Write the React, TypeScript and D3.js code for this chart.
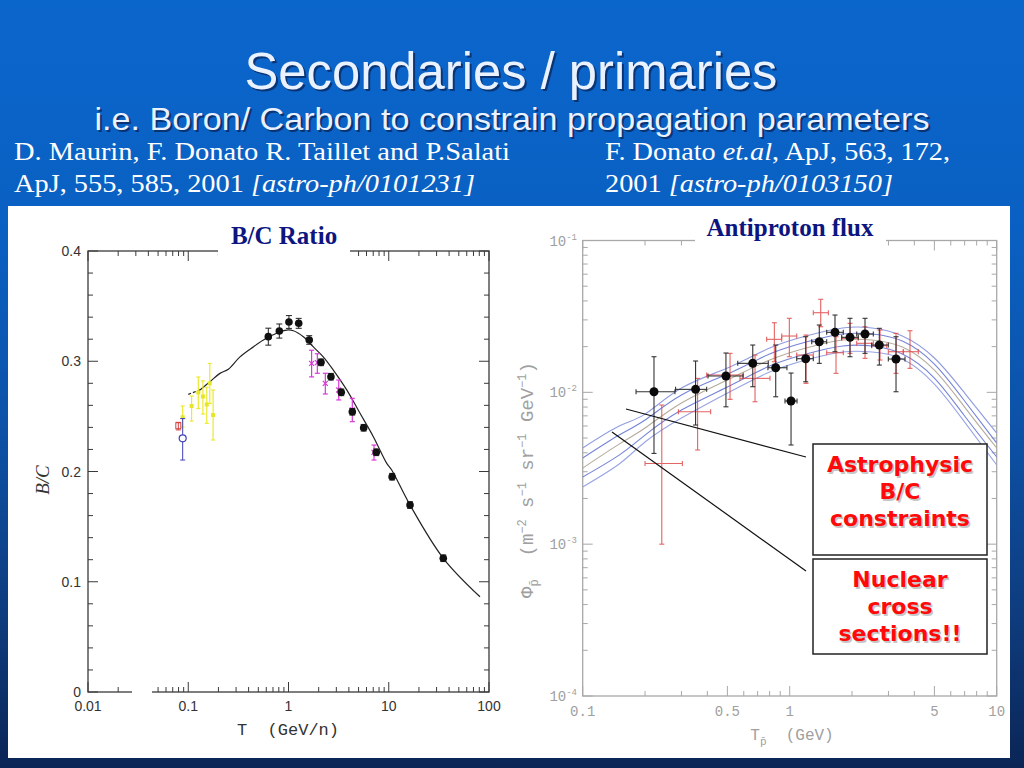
import * as d3 from 'd3';

// ---------- left panel: B/C ratio ----------
const bcModelT = [0.1, 0.131, 0.165, 0.207, 0.251, 0.328, 0.445, 0.606, 0.763, 0.96, 1.117, 1.406, 1.77, 2.22, 2.8, 3.81, 5.17, 7.02, 9.55, 10.7, 16.3, 35.0, 81.3];
const bcModel = [0.27, 0.274, 0.2815, 0.289, 0.2927, 0.304, 0.313, 0.321, 0.3254, 0.3283, 0.3277, 0.3223, 0.313, 0.304, 0.292, 0.274, 0.2528, 0.2316, 0.2074, 0.2014, 0.1696, 0.1213, 0.0864];

const heaoT = [0.629, 0.81, 1.01, 1.264, 1.61, 2.11, 2.65, 3.36, 4.33, 5.62, 7.51, 10.8, 16.3, 35.0];
const heaoBC = [0.3223, 0.3274, 0.3356, 0.3344, 0.3193, 0.299, 0.286, 0.2718, 0.2542, 0.2397, 0.2174, 0.1953, 0.1696, 0.1213];
const heaoErr = [0.0077, 0.0064, 0.0058, 0.0045, 0.0039, 0.003, 0.003, 0.003, 0.003, 0.003, 0.003, 0.003, 0.003, 0.003];

const magT = [1.7, 1.94, 2.33, 3.17, 4.33, 7.13];
const magBC = [0.2981, 0.2987, 0.28, 0.2739, 0.2558, 0.2174];
const magLo = [0.2858, 0.2891, 0.2703, 0.2649, 0.2452, 0.2104];
const magHi = [0.31, 0.3068, 0.2891, 0.283, 0.2664, 0.224];

const yelT = [0.088, 0.108, 0.126, 0.14, 0.153, 0.164, 0.177];
const yelBC = [0.2492, 0.2594, 0.2717, 0.268, 0.2608, 0.28, 0.2512];
const yelLo = [0.2403, 0.2458, 0.2571, 0.2521, 0.2437, 0.2617, 0.2286];
const yelHi = [0.2594, 0.2685, 0.2857, 0.2822, 0.2764, 0.298, 0.2739];

const redSqT = 0.0796, redSqBC = 0.2415, redSqLo = 0.2377, redSqHi = 0.2446;
const bluT = 0.088, bluBC = 0.2301, bluLo = 0.2104, bluHi = 0.248;

const leftXLabels = ['0.01', '0.1', '1', '10', '100'];
const leftYLabels = ['0', '0.1', '0.2', '0.3', '0.4'];

// ---------- right panel: antiproton flux ----------
const curveT = [0.1, 0.15, 0.2, 0.3, 0.5, 0.8, 1.2, 1.8, 2.5, 3.5, 5, 7, 10];
const curveA = [0.0043, 0.006, 0.00719, 0.01067, 0.01446, 0.01958, 0.02349, 0.02652, 0.02652, 0.02349, 0.01683, 0.00989, 0.00539];
const curveB = [0.00369, 0.00523, 0.00657, 0.0096, 0.0132, 0.01788, 0.02145, 0.02421, 0.02421, 0.02178, 0.01536, 0.00877, 0.00463];
const curveC = [0.00317, 0.00456, 0.00582, 0.0085, 0.01205, 0.01632, 0.01958, 0.02211, 0.02211, 0.01988, 0.01402, 0.008, 0.0043];
const curveD = [0.00277, 0.00386, 0.00523, 0.00764, 0.01083, 0.0149, 0.01788, 0.02018, 0.02018, 0.01788, 0.01242, 0.00698, 0.00375];
const curveE = [0.00238, 0.00337, 0.00471, 0.00677, 0.00989, 0.0136, 0.01632, 0.01843, 0.01843, 0.01657, 0.01134, 0.00637, 0.00332];
const curveColors = ['#8f9ce0', '#7584d6', '#b4ac9c', '#7584d6', '#98a4e4'];

const bessT = [0.221, 0.351, 0.492, 0.663, 0.856, 1.015, 1.195, 1.39, 1.655, 1.956, 2.311, 2.71, 3.263];
const bessTlo = [0.181, 0.281, 0.403, 0.561, 0.785, 0.949, 1.081, 1.277, 1.509, 1.783, 2.107, 2.489, 2.995];
const bessThi = [0.279, 0.397, 0.595, 0.788, 0.97, 1.085, 1.3, 1.509, 1.815, 2.145, 2.535, 2.995, 3.606];
const bessPhi = [0.01009, 0.01046, 0.0128, 0.01552, 0.01452, 0.00877, 0.01665, 0.02154, 0.02484, 0.02303, 0.02421, 0.02049, 0.01657];
const bessLo = [0.00396, 0.00609, 0.00803, 0.01089, 0.00935, 0.0045, 0.01174, 0.01552, 0.01852, 0.01716, 0.01806, 0.01512, 0.01009];
const bessHi = [0.01716, 0.01608, 0.01815, 0.02049, 0.02049, 0.0134, 0.02324, 0.02776, 0.03229, 0.03073, 0.03073, 0.0264, 0.02324];

const redT = [0.241, 0.359, 0.515, 0.68, 0.843, 0.996, 1.199, 1.412, 1.674, 1.956, 2.311, 2.731, 3.263, 3.812];
const redTlo = [0.2, 0.29, 0.397, 0.575, 0.774, 0.915, 1.081, 1.3, 1.509, 1.783, 2.107, 2.489, 2.995, 3.538];
const redThi = [0.303, 0.415, 0.597, 0.803, 0.915, 1.081, 1.3, 1.537, 1.815, 2.145, 2.535, 2.943, 3.538, 4.181];
const redPhi = [0.0034, 0.00745, 0.013, 0.01236, 0.02234, 0.02349, 0.01761, 0.03345, 0.01823, 0.02268, 0.02103, 0.02028, 0.01852, 0.01852];
const redLo = [0.001, 0.00417, 0.00899, 0.00867, 0.0159, 0.01716, 0.01146, 0.02704, 0.01334, 0.01806, 0.01675, 0.01632, 0.01334, 0.01439];
const redHi = [0.00825, 0.01236, 0.01806, 0.01761, 0.02874, 0.03073, 0.02384, 0.04099, 0.02324, 0.02848, 0.02704, 0.02573, 0.02447, 0.02545];

const rightXLabels = [0.1, 0.5, 1, 5, 10];
const rightYExp = ['-1', '-2', '-3', '-4'];

const boxAstro = ['Astrophysic', 'B/C', 'constraints'];
const boxNuclear = ['Nuclear', 'cross', 'sections!!'];

// scales
const xL = d3.scaleLog().domain([0.01, 100]).range([88, 489]);
const yL = d3.scaleLinear().domain([0, 0.4]).range([692, 251]);
const xR = d3.scaleLog().domain([0.1, 10]).range([582.7, 996.7]);
const yR = d3.scaleLog().domain([1e-4, 1e-1]).range([696, 240.5]);

const isDecade = (v: number) => Math.abs(Math.log10(v) - Math.round(Math.log10(v))) < 1e-6;

function VBar({ x, y1, y2, cap, color, w = 1 }: any) {
  return (
    <g stroke={color} strokeWidth={w}>
      <line x1={x} x2={x} y1={y1} y2={y2} />
      <line x1={x - cap} x2={x + cap} y1={y1} y2={y1} />
      <line x1={x - cap} x2={x + cap} y1={y2} y2={y2} />
    </g>
  );
}

function HBar({ y, x1, x2, cap, color, w = 1 }: any) {
  return (
    <g stroke={color} strokeWidth={w}>
      <line x1={x1} x2={x2} y1={y} y2={y} />
      <line x1={x1} x2={x1} y1={y - cap} y2={y + cap} />
      <line x1={x2} x2={x2} y1={y - cap} y2={y + cap} />
    </g>
  );
}

function LeftChart() {
  const [x0, x1] = xL.range();
  const [y0, y1] = yL.range();
  // solid part of the model starts at the 2nd point, the first segment is dashed
  const solid = d3
    .line<number>()
    .x((_, i) => xL(bcModelT[i + 1]))
    .y((d) => yL(d))
    .curve(d3.curveCatmullRom.alpha(0.5));
  const dashed = d3
    .line<number>()
    .x((_, i) => xL(bcModelT[i]))
    .y((d) => yL(d));
  const xt = xL.ticks();
  const yt = yL.ticks(20);
  const col = '#3a3a3a';
  return (
    <g>
      <rect x={x0} y={y1} width={x1 - x0} height={y0 - y1} fill="none" stroke={col} strokeWidth={1.3} />
      {xt.map((t) => {
        const L = isDecade(t) ? 10 : 5;
        const x = xL(t);
        return (
          <g key={'lx' + t} stroke={col} strokeWidth={1}>
            <line x1={x} x2={x} y1={y0} y2={y0 - L} />
            <line x1={x} x2={x} y1={y1} y2={y1 + L} />
          </g>
        );
      })}
      {yt.map((t, i) => {
        const L = i % 5 === 0 ? 10 : 5;
        const y = yL(t);
        return (
          <g key={'ly' + i} stroke={col} strokeWidth={1}>
            <line x1={x0} x2={x0 + L} y1={y} y2={y} />
            <line x1={x1} x2={x1 - L} y1={y} y2={y} />
          </g>
        );
      })}
      {leftXLabels.map((s) => (
        <text key={'xl' + s} x={xL(+s)} y={711} textAnchor="middle" fontFamily="Liberation Sans, Arial" fontSize={14} fill="#333">
          {s}
        </text>
      ))}
      {leftYLabels.map((s) => (
        <text key={'yl' + s} x={81} y={yL(+s) + 5} textAnchor="end" fontFamily="Liberation Sans, Arial" fontSize={14} fill="#333">
          {s}
        </text>
      ))}
      <text x={288} y={735} textAnchor="middle" fontFamily="Liberation Mono, monospace" fontSize={17} fill="#333" style={{ whiteSpace: 'pre' }}>
        T  (GeV/n)
      </text>
      <text transform="translate(49,480) rotate(-90)" textAnchor="middle" fontFamily="Liberation Serif, serif" fontStyle="italic" fontSize={19} fill="#333">
        B/C
      </text>

      {/* model */}
      <path d={solid(bcModel.slice(1)) || ''} fill="none" stroke="#222" strokeWidth={1.2} />
      <path d={dashed(bcModel.slice(0, 2)) || ''} fill="none" stroke="#222" strokeWidth={1.2} strokeDasharray="3,2" />

      {/* yellow */}
      {yelT.map((t, i) => (
        <g key={'ye' + i}>
          <VBar x={xL(t)} y1={yL(yelHi[i])} y2={yL(yelLo[i])} cap={2} color="#eaea30" w={1.2} />
          <rect x={xL(t) - 2} y={yL(yelBC[i]) - 2} width={4} height={4} fill="#e6e628" />
        </g>
      ))}
      {/* red square & blue circle */}
      <VBar x={xL(redSqT)} y1={yL(redSqHi)} y2={yL(redSqLo)} cap={2.5} color="#d04040" />
      <rect x={xL(redSqT) - 2.5} y={yL(redSqBC) - 3} width={5} height={6} fill="none" stroke="#d04040" strokeWidth={1} />
      <VBar x={xL(bluT)} y1={yL(bluHi)} y2={yL(bluLo)} cap={2.5} color="#4040b8" />
      <circle cx={xL(bluT)} cy={yL(bluBC)} r={3.5} fill="white" stroke="#4040b8" strokeWidth={1.2} />
      {/* magenta */}
      {magT.map((t, i) => {
        const x = xL(t), y = yL(magBC[i]);
        return (
          <g key={'mg' + i}>
            <VBar x={x} y1={yL(magHi[i])} y2={yL(magLo[i])} cap={2.5} color="#d838d8" w={1.2} />
            <g stroke="#d838d8" strokeWidth={1.2}>
              <line x1={x - 2.5} x2={x + 2.5} y1={y - 2.5} y2={y + 2.5} />
              <line x1={x - 2.5} x2={x + 2.5} y1={y + 2.5} y2={y - 2.5} />
            </g>
          </g>
        );
      })}
      {/* black points */}
      {heaoT.map((t, i) => (
        <g key={'hb' + i}>
          <VBar x={xL(t)} y1={yL(heaoBC[i] + heaoErr[i])} y2={yL(heaoBC[i] - heaoErr[i])} cap={3} color="#222" />
          <circle cx={xL(t)} cy={yL(heaoBC[i])} r={3.8} fill="#111" />
        </g>
      ))}

      {/* pasted-over patches */}
      <rect x={218} y={212} width={132} height={50} fill="white" />
      <rect x={132} y={682} width={20} height={68} fill="white" />
      <text x={284} y={244} textAnchor="middle" fontFamily="Liberation Serif, serif" fontWeight="bold" fontSize={25} fill="#0d1680">
        B/C Ratio
      </text>
    </g>
  );
}

function RightChart() {
  const [x0, x1] = xR.range();
  const [y0, y1] = yR.range();
  const col = '#a8a8a8';
  const xt = xR.ticks();
  const yt = yR.ticks();
  const curves = [curveA, curveB, curveC, curveD, curveE];
  const line = d3
    .line<number>()
    .x((_, i) => xR(curveT[i]))
    .y((d) => yR(d))
    .curve(d3.curveNatural);
  const mono = 'Liberation Mono, DejaVu Sans Mono, monospace';
  return (
    <g>
      <defs>
        <clipPath id="rclip">
          <rect x={x0} y={y1} width={x1 - x0} height={y0 - y1} />
        </clipPath>
      </defs>
      <rect x={x0} y={y1} width={x1 - x0} height={y0 - y1} fill="none" stroke={col} strokeWidth={1.3} />
      {xt.map((t) => {
        const major = [0.1, 0.5, 1, 5, 10].some((m) => Math.abs(m - t) < 1e-9);
        const L = major ? 10 : 5;
        const x = xR(t);
        return (
          <g key={'rx' + t} stroke={col} strokeWidth={1}>
            <line x1={x} x2={x} y1={y0} y2={y0 - L} />
            <line x1={x} x2={x} y1={y1} y2={y1 + L} />
          </g>
        );
      })}
      {yt.map((t) => {
        const L = isDecade(t) ? 10 : 5;
        const y = yR(t);
        return (
          <g key={'ry' + t} stroke={col} strokeWidth={1}>
            <line x1={x0} x2={x0 + L} y1={y} y2={y} />
            <line x1={x1} x2={x1 - L} y1={y} y2={y} />
          </g>
        );
      })}
      {rightXLabels.map((v) => (
        <text key={'rxl' + v} x={xR(v)} y={716} textAnchor="middle" fontFamily={mono} fontSize={14} fill="#a0a0a0">
          {String(v)}
        </text>
      ))}
      {rightYExp.map((e, i) => (
        <text key={'ryl' + e} x={577} y={yR(Math.pow(10, -(i + 1))) + 5} textAnchor="end" fontFamily={mono} fontSize={14} fill="#a0a0a0">
          10<tspan dy={-6} fontSize={9}>{e}</tspan>
        </text>
      ))}
      <text x={792} y={740} textAnchor="middle" fontFamily={mono} fontSize={16} fill="#a0a0a0" style={{ whiteSpace: 'pre' }}>
        T<tspan dy={5} fontSize={11}>{'p\u0304'}</tspan>
        <tspan dy={-5}>{'  (GeV)'}</tspan>
      </text>
      <text transform="translate(533,480) rotate(-90)" textAnchor="middle" fontFamily={mono} fontSize={19} fill="#a0a0a0" style={{ whiteSpace: 'pre' }}>
        {'\u03a6'}
        <tspan dy={5} fontSize={12}>{'p\u0304'}</tspan>
        <tspan dy={-5}>{'  (m'}</tspan>
        <tspan dy={-7} fontSize={12}>−2</tspan>
        <tspan dy={7}>{' s'}</tspan>
        <tspan dy={-7} fontSize={12}>−1</tspan>
        <tspan dy={7}>{' sr'}</tspan>
        <tspan dy={-7} fontSize={12}>−1</tspan>
        <tspan dy={7}>{' GeV'}</tspan>
        <tspan dy={-7} fontSize={12}>−1</tspan>
        <tspan dy={7}>)</tspan>
      </text>

      <g clipPath="url(#rclip)">
        {curves.map((c, i) => (
          <path key={'c' + i} d={line(c) || ''} fill="none" stroke={curveColors[i]} strokeWidth={1.1} />
        ))}
      </g>

      {/* red data */}
      {redT.map((t, i) => (
        <g key={'rd' + i} opacity={0.85}>
          <VBar x={xR(t)} y1={yR(redHi[i])} y2={yR(redLo[i])} cap={2.5} color="#e04848" w={1.1} />
          <HBar y={yR(redPhi[i])} x1={xR(redTlo[i])} x2={xR(redThi[i])} cap={2.5} color="#e04848" w={1.1} />
        </g>
      ))}
      {/* black data */}
      {bessT.map((t, i) => (
        <g key={'bs' + i}>
          <VBar x={xR(t)} y1={yR(bessHi[i])} y2={yR(bessLo[i])} cap={2.5} color="#333" w={1.1} />
          <HBar y={yR(bessPhi[i])} x1={xR(bessTlo[i])} x2={xR(bessThi[i])} cap={2.5} color="#333" w={1.1} />
          <circle cx={xR(t)} cy={yR(bessPhi[i])} r={4.5} fill="#0a0a0a" />
        </g>
      ))}

      <rect x={695} y={210} width={191} height={46} fill="white" />
      <text x={790} y={236} textAnchor="middle" fontFamily="Liberation Serif, serif" fontWeight="bold" fontSize={25} fill="#0d1680">
        Antiproton flux
      </text>
    </g>
  );
}

function Callout({ y, h, lines }: { y: number; h: number; lines: string[] }) {
  const base = y + 28;
  return (
    <g>
      <rect x={813} y={y} width={174} height={h} fill="white" stroke="#222" strokeWidth={1.5} />
      {lines.map((s, i) => (
        <g key={s} fontFamily="DejaVu Sans, Verdana, sans-serif" fontWeight="bold" fontSize={22} textAnchor="middle">
          <text x={901.5} y={base + i * 27 + 1.5} fill="#999" opacity={0.55}>
            {s}
          </text>
          <text x={900} y={base + i * 27} fill="#ff0a0a">
            {s}
          </text>
        </g>
      ))}
    </g>
  );
}

export default function App() {
  return (
    <svg width={1024} height={768} style={{ position: 'absolute', left: 0, top: 0 }}>
      <defs>
        <linearGradient id="bg" x1="0" y1="0" x2="0" y2="1">
          <stop offset="0" stopColor="#0b66cc" />
          <stop offset="0.3" stopColor="#0a60c2" />
          <stop offset="0.55" stopColor="#0c52a8" />
          <stop offset="0.8" stopColor="#0e3c7e" />
          <stop offset="1" stopColor="#0b2556" />
        </linearGradient>
      </defs>
      <rect width={1024} height={768} fill="url(#bg)" />

      {/* header */}
      <g fontFamily="Liberation Sans, Arial, sans-serif" textAnchor="middle">
        <text x={513} y={91} fontSize={52} fill="#0a2050" opacity={0.7} textLength={533} lengthAdjust="spacingAndGlyphs">
          Secondaries / primaries
        </text>
        <text x={511} y={89} fontSize={52} fill="#eaf2ff" textLength={533} lengthAdjust="spacingAndGlyphs">
          Secondaries / primaries
        </text>
        <text x={514} y={132} fontSize={32} fill="#0a2050" opacity={0.7} textLength={835} lengthAdjust="spacingAndGlyphs">
          i.e. Boron/ Carbon to constrain propagation parameters
        </text>
        <text x={512} y={130} fontSize={32} fill="#eaf2ff" textLength={835} lengthAdjust="spacingAndGlyphs">
          i.e. Boron/ Carbon to constrain propagation parameters
        </text>
      </g>
      <g fontFamily="Liberation Serif, Times New Roman, serif" fontSize={25} fill="white">
        <text x={14} y={160} textLength={496} lengthAdjust="spacingAndGlyphs">
          D. Maurin, F. Donato R. Taillet and P.Salati
        </text>
        <text x={14} y={192} textLength={461} lengthAdjust="spacingAndGlyphs">
          ApJ, 555, 585, 2001 <tspan fontStyle="italic">[astro-ph/0101231]</tspan>
        </text>
        <text x={605} y={160} textLength={345} lengthAdjust="spacingAndGlyphs">
          F. Donato <tspan fontStyle="italic">et.al</tspan>, ApJ, 563, 172,
        </text>
        <text x={605} y={192} textLength={288} lengthAdjust="spacingAndGlyphs">
          2001 <tspan fontStyle="italic">[astro-ph/0103150]</tspan>
        </text>
      </g>

      <rect x={8} y={206} width={1002} height={552} fill="white" />
      <LeftChart />
      <RightChart />

      {/* leader lines */}
      <line x1={626} y1={409} x2={806} y2={457} stroke="#111" strokeWidth={1.2} />
      <line x1={612} y1={432} x2={806} y2={571} stroke="#111" strokeWidth={1.2} />
      <Callout y={444} h={111} lines={boxAstro} />
      <Callout y={559} h={95} lines={boxNuclear} />
    </svg>
  );
}
